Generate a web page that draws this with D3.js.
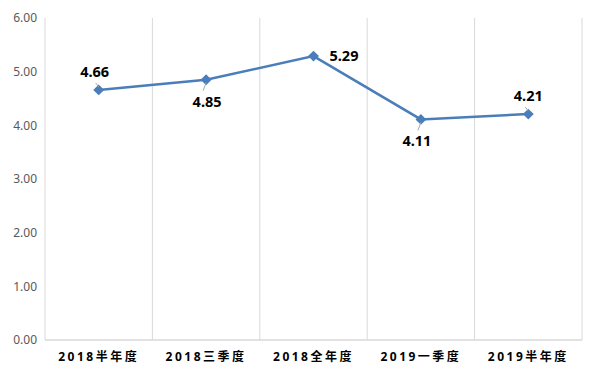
<!DOCTYPE html>
<html>
<head>
<meta charset="utf-8">
<script src="https://cdn.jsdelivr.net/npm/d3@7"></script>
<style>
  body { margin: 0; background: #fff; }
  svg text { font-family: "Noto Sans", "Noto Sans CJK SC", sans-serif; }
</style>
</head>
<body>
<div id="chart"></div>
<script>
// data
const categories = ["2018半年度", "2018三季度", "2018全年度", "2019一季度", "2019半年度"];
const values = [4.66, 4.85, 5.29, 4.11, 4.21];
const yTicks = [0, 1, 2, 3, 4, 5, 6];
const labelSide = ["above", "below", "right", "below", "above"];
const labelShift = [-4, 1, 0, -4, 0];

const width = 600, height = 377;
const margin = {top: 18, right: 18, bottom: 37, left: 45};
const w = width - margin.left - margin.right;
const h = height - margin.top - margin.bottom;

const svg = d3.select("#chart").append("svg")
    .attr("width", width)
    .attr("height", height)
    .append("g")
    .attr("transform", `translate(${margin.left},${margin.top})`);

const x = d3.scaleBand().domain(categories).range([0, w]);
const y = d3.scaleLinear().domain([0, 6]).range([h, 0]);

// vertical grid lines at category boundaries
const bounds = categories.map(c => x(c)).concat([w]);
svg.selectAll(".vgrid")
    .data(bounds)
    .enter().append("line")
    .attr("class", "vgrid")
    .attr("x1", d => d).attr("x2", d => d)
    .attr("y1", 0).attr("y2", h)
    .attr("stroke", "#d9d9d9")
    .attr("stroke-width", 1);

// bottom axis line
svg.append("line")
    .attr("x1", 0).attr("x2", w)
    .attr("y1", h).attr("y2", h)
    .attr("stroke", "#d9d9d9")
    .attr("stroke-width", 1.5);

// y axis labels
const yAxis = d3.axisLeft(y).tickValues(yTicks).tickFormat(d3.format(".2f")).tickSize(0).tickPadding(8);
const gy = svg.append("g").call(yAxis);
gy.select(".domain").remove();
gy.selectAll("text").attr("fill", "#595959").style("font-size", "12px");

// x axis labels
const xAxis = d3.axisBottom(x).tickSize(0).tickPadding(12);
const gx = svg.append("g").attr("transform", `translate(0,${h})`).call(xAxis);
gx.select(".domain").remove();
gx.selectAll("text")
    .attr("fill", "#000")
    .style("font-size", "12px")
    .style("font-weight", "bold")
    .style("letter-spacing", "2.5px");

const pts = values.map((v, i) => ({
    v: v,
    side: labelSide[i],
    shift: labelShift[i],
    cx: x(categories[i]) + x.bandwidth() / 2,
    cy: y(v)
}));

// line
const line = d3.line()
    .x(d => d.cx)
    .y(d => d.cy);

svg.append("path")
    .datum(pts)
    .attr("fill", "none")
    .attr("stroke", "#4a7ebb")
    .attr("stroke-width", 2.5)
    .attr("d", line);

// diamond markers
svg.selectAll(".marker")
    .data(pts)
    .enter().append("path")
    .attr("class", "marker")
    .attr("d", d3.symbol().type(d3.symbolDiamond2).size(75))
    .attr("transform", d => `translate(${d.cx},${d.cy})`)
    .attr("fill", "#4a7ebb");

// leader lines
svg.selectAll(".leader")
    .data(pts.filter(d => d.side !== "right"))
    .enter().append("line")
    .attr("class", "leader")
    .attr("x1", d => d.cx - 3)
    .attr("y1", d => d.cy + (d.side === "above" ? -7 : 11))
    .attr("x2", d => d.cx)
    .attr("y2", d => d.cy + (d.side === "above" ? -3 : 3))
    .attr("stroke", "#a6a6a6")
    .attr("stroke-width", 1);

// data labels
svg.selectAll(".dlabel")
    .data(pts)
    .enter().append("text")
    .attr("class", "dlabel")
    .attr("x", d => d.side === "right" ? d.cx + 16 : d.cx + d.shift)
    .attr("y", d => d.side === "above" ? d.cy - 13 : d.side === "below" ? d.cy + 27 : d.cy + 5)
    .attr("text-anchor", d => d.side === "right" ? "start" : "middle")
    .style("font-size", "14.5px")
    .style("font-weight", "bold")
    .attr("fill", "#000")
    .text(d => d3.format(".2f")(d.v));
</script>
</body>
</html>
